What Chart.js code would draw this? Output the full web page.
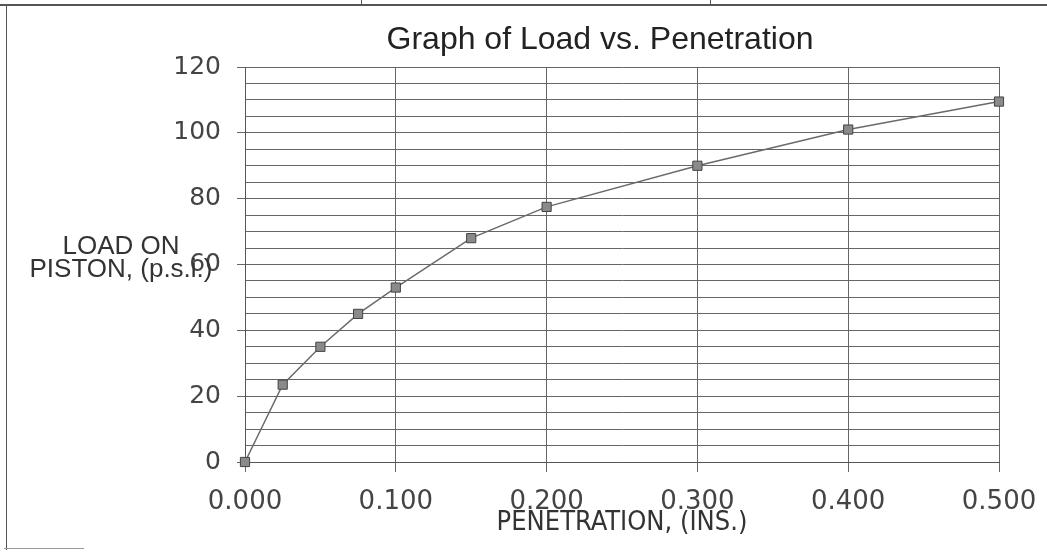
<!DOCTYPE html>
<html>
<head>
<meta charset="utf-8">
<title>Graph of Load vs. Penetration</title>
<script src="https://cdn.jsdelivr.net/npm/chart.js@4.4.1/dist/chart.umd.min.js"></script>
<style>
  body { margin: 0; background: #fff; }
  #wrap { position: relative; width: 1047px; height: 554px; overflow: hidden; }
  canvas { position: absolute; left: 0; top: 0; }
  /* scanned page frame */
  .rule { position: absolute; background: #555; }
</style>
</head>
<body>
<div id="wrap">
  <canvas id="loadChart" width="1047" height="554"></canvas>
  <div class="rule" style="left:0;top:4px;width:1047px;height:2px;"></div>
  <div class="rule" style="left:6px;top:4px;width:1px;height:546px;"></div>
  <div class="rule" style="left:361px;top:0;width:1px;height:5px;"></div>
  <div class="rule" style="left:710px;top:0;width:1px;height:5px;"></div>
  <div class="rule" style="left:4px;top:548px;width:80px;height:1px;background:#999;"></div>
</div>
<script>
// Data
const penetration = [0.000, 0.025, 0.050, 0.075, 0.100, 0.150, 0.200, 0.300, 0.400, 0.500];
const load = [0, 23.5, 35, 45, 53, 68, 77.5, 90, 101, 109.5];
const yTickLabels = [0, 20, 40, 60, 80, 100, 120];

const points = penetration.map((x, i) => ({ x: x, y: load[i] }));

// Title and horizontal y-axis title, placed like the original
const textPlugin = {
  id: "chartText",
  afterDraw(chart) {
    const ctx = chart.ctx;
    const area = chart.chartArea;
    const mid = chart.scales.y.getPixelForValue(60) - 7;
    ctx.save();
    ctx.textAlign = "center";
    ctx.textBaseline = "middle";

    ctx.font = "32px 'Liberation Sans', Arial, sans-serif";
    ctx.fillStyle = "#222";
    ctx.fillText("Graph of Load vs. Penetration", (area.left + area.right) / 2 - 22, 40);

    ctx.font = "26px 'Liberation Sans', Arial, sans-serif";
    ctx.fillStyle = "#333";
    ctx.fillText("LOAD ON", 121, mid - 11);
    ctx.fillText("PISTON, (p.s.i.)", 121, mid + 12);
    ctx.restore();
  },
};

const ctx = document.getElementById("loadChart").getContext("2d");
new Chart(ctx, {
  type: "scatter",
  data: {
    datasets: [
      {
        label: "Load",
        data: points,
        showLine: true,
        tension: 0,
        clip: false,
        borderColor: "#6a6a6a",
        borderWidth: 1.5,
        pointStyle: "rect",
        pointRadius: 6.5,
        pointBackgroundColor: "#8a8a8a",
        pointBorderColor: "#444",
        pointBorderWidth: 1,
      },
    ],
  },
  options: {
    responsive: false,
    animation: false,
    layout: { padding: { left: 0, right: 48, top: 67, bottom: 0 } },
    plugins: {
      legend: { display: false },
      tooltip: { enabled: false },
      title: { display: false },
    },
    scales: {
      x: {
        type: "linear",
        min: 0,
        max: 0.5,
        afterFit: (s) => {
          s.height = 92;
          s.paddingLeft = 0;
          s.paddingRight = 0;
        },
        ticks: {
          stepSize: 0.1,
          color: "#444",
          padding: 15,
          maxRotation: 0,
          font: { family: "'DejaVu Sans', Verdana, sans-serif", size: 26 },
          callback: (v) => Number(v).toFixed(3),
        },
        grid: { color: "#666", lineWidth: 1, tickLength: 10, tickColor: "#666" },
        border: { color: "#555" },
        title: {
          display: true,
          text: "PENETRATION, (INS.)",
          color: "#333",
          font: { family: "'Liberation Sans Narrow', 'DejaVu Sans Condensed', sans-serif", size: 27 },
          padding: { top: 0, bottom: 15 },
        },
      },
      y: {
        min: 0,
        max: 120,
        afterFit: (s) => { s.width = 245; },
        ticks: {
          stepSize: 5,
          maxTicksLimit: 30,
          autoSkip: false,
          color: "#444",
          padding: 16,
          font: { family: "'DejaVu Sans', Verdana, sans-serif", size: 25 },
          callback: (v) => (yTickLabels.includes(v) ? String(v) : ""),
        },
        grid: {
          color: "#666",
          lineWidth: 1,
          tickLength: 8,
          tickColor: (c) => (c.tick && yTickLabels.includes(c.tick.value) ? "#666" : "rgba(0,0,0,0)"),
        },
        border: { color: "#555" },
      },
    },
  },
  plugins: [textPlugin],
});
</script>
</body>
</html>
